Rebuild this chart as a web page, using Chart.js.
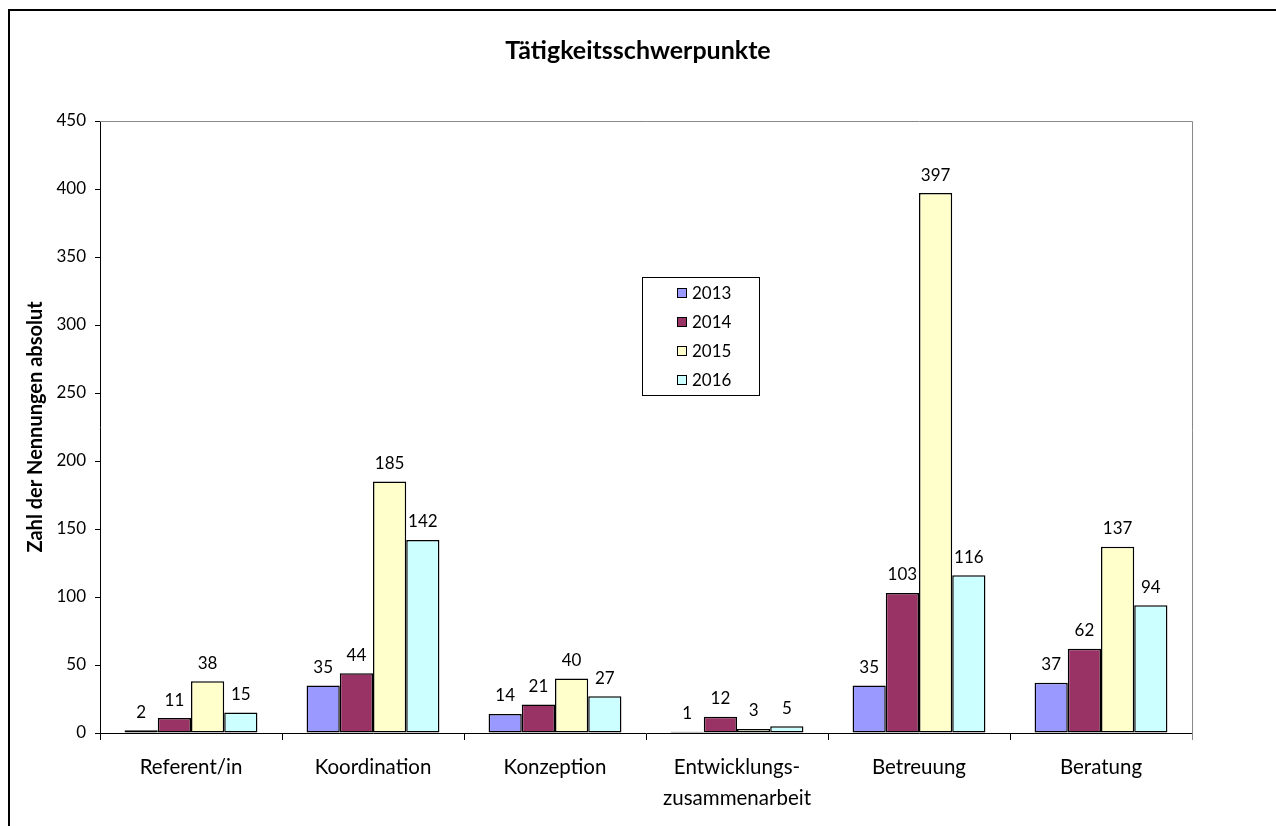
<!DOCTYPE html>
<html>
<head>
<meta charset="utf-8">
<script src="https://cdn.jsdelivr.net/npm/chart.js@4/dist/chart.umd.min.js"></script>
<style>
  html, body { margin: 0; padding: 0; background: #fff; overflow: hidden; }
  #rahmen { position: absolute; left: 8px; top: 9px; width: 2000px; height: 2000px;
            border-left: 2px solid #000; border-top: 2px solid #000; }
  #wrap { position: absolute; left: 0; top: 0; width: 1276px; height: 826px; }
</style>
</head>
<body>
<div id="rahmen"></div>
<div id="wrap"><canvas id="grafico" width="1276" height="826"></canvas></div>
<script>
const kategorien = ["Referent/in", "Koordination", "Konzeption", ["Entwicklungs-", "zusammenarbeit"], "Betreuung", "Beratung"];
const jahre = ["2013", "2014", "2015", "2016"];
const werte2013 = [2, 35, 14, 1, 35, 37];
const werte2014 = [11, 44, 21, 12, 103, 62];
const werte2015 = [38, 185, 40, 3, 397, 137];
const werte2016 = [15, 142, 27, 5, 116, 94];
const yTicks = [0, 50, 100, 150, 200, 250, 300, 350, 400, 450];

const farben = ["#9999FF", "#993366", "#FFFFCC", "#CCFFFF"];
const schrift = "Lato, 'Noto Sans', sans-serif";

// Werte über den Balken
const wertePlugin = {
  id: 'werte',
  afterDatasetsDraw(chart) {
    const ctx = chart.ctx;
    ctx.save();
    ctx.font = "17px " + schrift;
    ctx.fillStyle = "#000";
    ctx.textAlign = "center";
    ctx.textBaseline = "middle";
    chart.data.datasets.forEach((ds, i) => {
      chart.getDatasetMeta(i).data.forEach((bar, j) => {
        ctx.fillText(String(ds.data[j]), bar.x, bar.y - 18);
      });
    });
    ctx.restore();
  }
};

// grauer Rahmen oben und rechts der Zeichenfläche
const flaechePlugin = {
  id: 'flaeche',
  beforeDatasetsDraw(chart) {
    const a = chart.chartArea;
    const ctx = chart.ctx;
    ctx.save();
    ctx.strokeStyle = "#888";
    ctx.lineWidth = 1;
    ctx.beginPath();
    ctx.moveTo(a.left, a.top + 0.5);
    ctx.lineTo(a.right + 0.5, a.top + 0.5);
    ctx.lineTo(a.right + 0.5, a.bottom + 7);
    ctx.stroke();
    ctx.restore();
  }
};

// Legende als Kasten in der Mitte
const legendePlugin = {
  id: 'legende',
  afterDraw(chart) {
    const ctx = chart.ctx;
    ctx.save();
    ctx.fillStyle = "#fff";
    ctx.fillRect(642.5, 277.5, 117, 118);
    ctx.strokeStyle = "#000";
    ctx.lineWidth = 1;
    ctx.strokeRect(642.5, 277.5, 117, 118);
    ctx.font = "17px " + schrift;
    ctx.textBaseline = "middle";
    ctx.textAlign = "left";
    chart.data.datasets.forEach((ds, i) => {
      const y = 293 + i * 29;
      ctx.fillStyle = ds.backgroundColor;
      ctx.fillRect(677.5, y - 4.5, 9, 9);
      ctx.strokeStyle = "#000";
      ctx.strokeRect(677.5, y - 4.5, 9, 9);
      ctx.fillStyle = "#000";
      ctx.fillText(ds.label, 692, y + 1);
    });
    ctx.restore();
  }
};

const datensaetze = [werte2013, werte2014, werte2015, werte2016].map((w, i) => ({
  label: jahre[i],
  data: w,
  backgroundColor: farben[i],
  borderColor: "#000",
  borderWidth: 1.5,
  borderSkipped: false,
  categoryPercentage: 0.73,
  barPercentage: 1.0
}));

new Chart(document.getElementById("grafico").getContext("2d"), {
  type: "bar",
  data: { labels: kategorien, datasets: datensaetze },
  plugins: [flaechePlugin, wertePlugin, legendePlugin],
  options: {
    responsive: false,
    animation: false,
    layout: { padding: 0 },
    plugins: {
      legend: { display: false },
      tooltip: { enabled: false },
      title: {
        display: true,
        text: "Tätigkeitsschwerpunkte",
        color: "#000",
        font: { family: schrift, size: 25, weight: "bold", lineHeight: 1.2 },
        padding: { top: 36, bottom: 55 }
      }
    },
    scales: {
      x: {
        offset: true,
        grid: { offset: true, drawOnChartArea: false, tickLength: 7, color: "#000" },
        border: { color: "#000", width: 1 },
        ticks: {
          color: "#000",
          autoSkip: false,
          maxRotation: 0,
          padding: 12,
          font: { family: schrift, size: 20.5, lineHeight: 1.5 }
        },
        afterFit: (s) => { s.height = 93; }
      },
      y: {
        min: 0,
        max: 450,
        afterBuildTicks: (s) => { s.ticks = yTicks.map(v => ({ value: v })); },
        grid: { drawOnChartArea: false, tickLength: 5, color: "#000" },
        border: { color: "#000", width: 1 },
        ticks: {
          color: "#000",
          padding: 9,
          font: { family: schrift, size: 17 }
        },
        title: {
          display: true,
          text: "Zahl der Nennungen absolut",
          color: "#000",
          font: { family: schrift, size: 20, weight: "bold", lineHeight: 1.2 },
          padding: { top: 24, bottom: 0 }
        },
        afterFit: (s) => { s.width = 100; }
      },
      rechts: {
        type: "linear",
        position: "right",
        display: true,
        grid: { display: false },
        border: { display: false },
        ticks: { display: false },
        afterFit: (s) => { s.width = 84; }
      }
    }
  }
});
</script>
</body>
</html>
